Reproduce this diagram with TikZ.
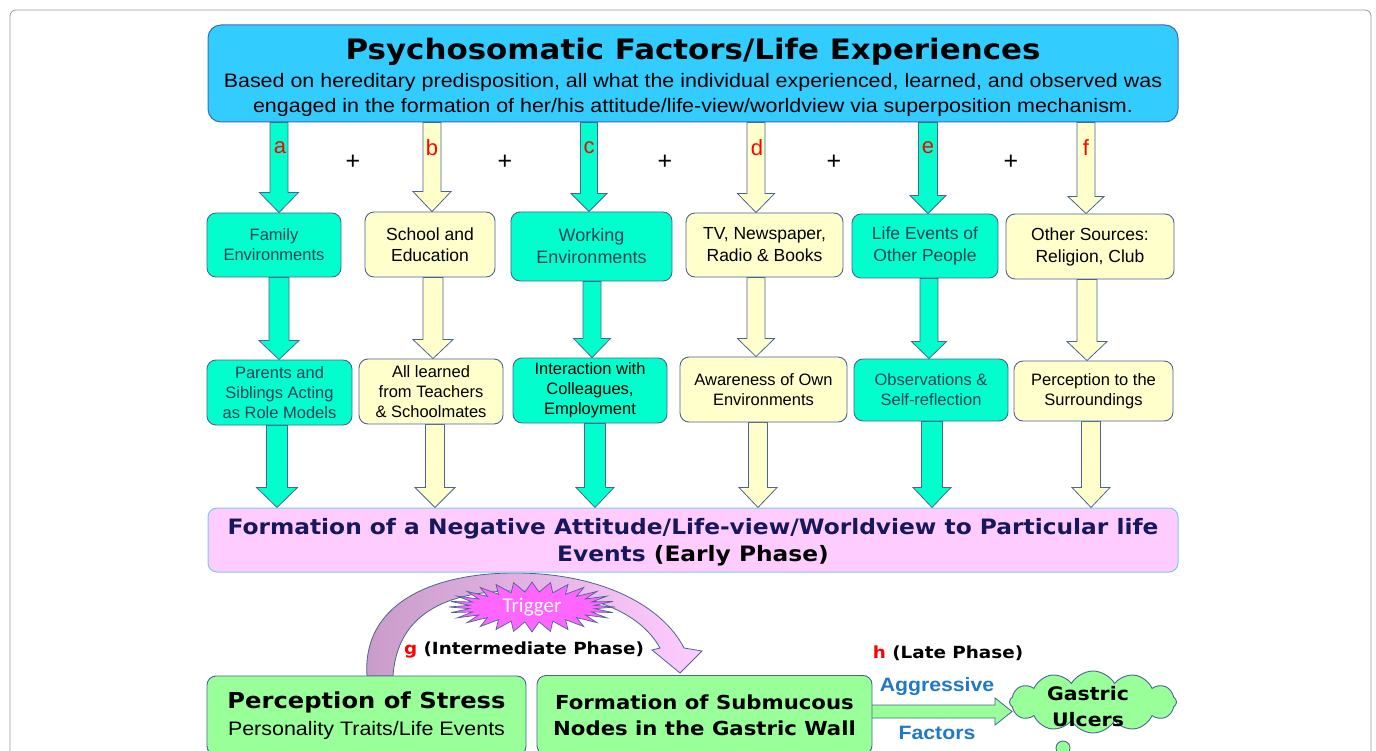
\documentclass[tikz,border=0pt]{standalone}
\usepackage{fontspec}
\setmainfont{Liberation Sans}
\newfontfamily\verd{DejaVu Sans}[FakeStretch=1.1]
\newfontfamily\arialw{Liberation Sans}[FakeStretch=1.1]
\newfontfamily\calib{Carlito}
\usetikzlibrary{shapes.symbols,calc}
\pgfdeclarelayer{bg}
\pgfsetlayers{bg,main}
\definecolor{topblue}{HTML}{33CCFF}
\definecolor{topedge}{HTML}{3A6DB5}
\definecolor{tealf}{HTML}{00FFCC}
\definecolor{yel}{HTML}{FFFFCC}
\definecolor{pinkf}{HTML}{FFCCFF}
\definecolor{pinkedge}{HTML}{7CC8F2}
\definecolor{greenf}{HTML}{99FF99}
\definecolor{edge}{HTML}{4A6496}
\definecolor{tealtext}{HTML}{1F3F5F}
\definecolor{navy}{HTML}{17175E}
\definecolor{aggblue}{HTML}{1F78C8}
\definecolor{mauve}{HTML}{C89BC8}
\definecolor{starf}{HTML}{FF66FF}
\definecolor{frame}{HTML}{9A9A9A}
% block arrow: style, x, from, to, half shaft, half head, head length
\newcommand\barrow[7]{%
  \path[#1] let \p1=(#3), \p2=(#4) in
    (#2pt-#5pt,\y1) -- (#2pt+#5pt,\y1) -- (#2pt+#5pt,\y2+#7pt) -- (#2pt+#6pt,\y2+#7pt)
    -- (#2pt,\y2) -- (#2pt-#6pt,\y2+#7pt) -- (#2pt-#5pt,\y2+#7pt) -- cycle;}
\tikzset{
  box/.style={draw=edge, line width=0.9pt, rounded corners=9pt, align=center, inner sep=0pt,
    font=\fontsize{16.5}{20}\selectfont},
  tbox/.style={box, fill=tealf, text=tealtext},
  ybox/.style={box, fill=yel, text=black},
  tarr/.style={draw=edge, line width=0.8pt, fill=tealf},
  yarr/.style={draw=edge, line width=0.8pt, fill=yel},
  letter/.style={text=red, font=\fontsize{22}{22}\selectfont, inner sep=0pt},
  plus/.style={font=\fontsize{25}{25}\selectfont, inner sep=0pt},
  gbox/.style={draw=edge, line width=0.9pt, rounded corners=9pt, fill=greenf, align=center, inner sep=0pt},
  phase/.style={font=\verd\bfseries\fontsize{16.7}{20}\selectfont, inner sep=0pt},
  agg/.style={text=aggblue, font=\arialw\bfseries\fontsize{19.3}{20}\selectfont, inner sep=0pt}
}
\begin{document}
\begin{tikzpicture}[x=1pt,y=-1pt]
\useasboundingbox (0,0) rectangle (1376,751);
\clip (0,0) rectangle (1376,751);
\draw[frame, line width=0.8pt, rounded corners=6pt] (10,10) rectangle (1371,800);

% top box
\node[draw=topedge, line width=1pt, rounded corners=13pt, fill=topblue, inner sep=0pt,
  minimum width=970pt, minimum height=97pt] (top) at (693,73.5) {};
\node[align=center, inner sep=0pt, font=\arialw\fontsize{19.5}{25}\selectfont] (toptext) at (693,77.5)
  {{\verd\bfseries\fontsize{28.1}{30}\selectfont Psychosomatic Factors/Life Experiences}\\[3pt]
   Based on hereditary predisposition, all what the individual experienced, learned, and observed was\\
   engaged in the formation of her/his attitude/life-view/worldview via superposition mechanism.};

% row 1
\node[tbox, minimum width=134pt, minimum height=64pt] (fam) at (274,245) {Family\\Environments};
\node[ybox, minimum width=130pt, minimum height=65pt, font=\fontsize{17.5}{21}\selectfont] (sch) at (430,244.5) {School and\\Education};
\node[tbox, minimum width=161pt, minimum height=69pt, font=\fontsize{18}{22}\selectfont] (work) at (591.5,246.5) {Working\\Environments};
\node[ybox, minimum width=157pt, minimum height=64pt, font=\fontsize{17.5}{22}\selectfont] (tv) at (764.5,245) {TV, Newspaper,\\Radio \& Books};
\node[tbox, minimum width=146pt, minimum height=64pt, font=\fontsize{17.5}{22}\selectfont] (life) at (925,246) {Life Events of\\Other People};
\node[ybox, minimum width=168pt, minimum height=65pt, font=\fontsize{17.5}{22}\selectfont] (oth) at (1090,246.5) {Other Sources:\\Religion, Club};

% row 2
\node[tbox, minimum width=145pt, minimum height=65pt] (par) at (279.5,392.5) {Parents and\\Siblings Acting\\as Role Models};
\node[ybox, minimum width=144pt, minimum height=65pt] (all) at (431,391.5) {All learned\\from Teachers\\\& Schoolmates};
\node[tbox, minimum width=154pt, minimum height=65pt, text=black] (int) at (590,390.5) {Interaction with\\Colleagues,\\Employment};
\node[ybox, minimum width=167pt, minimum height=65pt] (awa) at (763.5,389.5) {Awareness of Own\\Environments};
\node[tbox, minimum width=154pt, minimum height=62pt] (obs) at (931,390) {Observations \&\\Self-reflection};
\node[ybox, minimum width=159pt, minimum height=60pt] (per) at (1093.5,391) {Perception to the\\Surroundings};

% pink box
\node[draw=pinkedge, line width=1pt, rounded corners=9pt, fill=pinkf, inner sep=0pt,
  minimum width=970pt, minimum height=64pt] (neg) at (693,540) {};
\node[align=center, inner sep=0pt, text=navy, font=\verd\bfseries\fontsize{21.2}{27}\selectfont] (negtext) at (693,542.5)
  {Formation of a Negative Attitude/Life-view/Worldview to Particular life\\Events {\color{black}(Early Phase)}};

% bottom boxes
\node[gbox, minimum width=319pt, minimum height=79pt, font=\fontsize{19}{27}\selectfont] (stress) at (366.5,715.5)
  {{\verd\bfseries\fontsize{22}{27}\selectfont Perception of Stress}\\{\arialw\fontsize{19.5}{27}\selectfont Personality Traits/Life Events}};
\node[gbox, minimum width=335pt, minimum height=79pt, font=\verd\bfseries\fontsize{19.3}{26}\selectfont] (form) at (704.5,715)
  {Formation of Submucous\\Nodes in the Gastric Wall};
\node[cloud, cloud puffs=12, cloud puff arc=120, cloud ignores aspect, draw=edge, line width=0.9pt, fill=greenf,
  minimum width=167pt, minimum height=62pt, inner sep=0pt] (ulc) at (1093,702) {};
\node[align=center, inner sep=0pt, font=\verd\bfseries\fontsize{18.6}{26}\selectfont] (ulctext) at (1088,707) {Gastric\\Ulcers};
\draw[edge, line width=0.9pt, fill=greenf] (1063,748) circle (7pt);

% letters and plus signs
\node[letter] (la) at (280,148) {a};
\node[letter] (lb) at (432,148) {b};
\node[letter] (lc) at (589,148) {c};
\node[letter] (ld) at (757,148) {d};
\node[letter] (le) at (928,148) {e};
\node[letter] (lf) at (1086,148) {f};
\node[plus] (p1) at (353,162) {+};
\node[plus] (p2) at (505,162) {+};
\node[plus] (p3) at (665,162) {+};
\node[plus] (p4) at (834,162) {+};
\node[plus] (p5) at (1011,162) {+};

% texts bottom
\node[phase] (gph) at (524,650) {{\color{red}g} (Intermediate Phase)};
\node[phase] (hph) at (948,653) {{\color{red}h} (Late Phase)};
\node[agg] (ag) at (937,687) {Aggressive};
\node[agg] (fa) at (937,733) {Factors};

\begin{pgfonlayer}{bg}
% row 1 arrows
\barrow{tarr}{279}{top.south}{fam.north}{9}{19.5}{20}
\barrow{yarr}{432}{top.south}{sch.north}{9}{19}{20}
\barrow{tarr}{589}{top.south}{work.north}{8.5}{18}{18}
\barrow{yarr}{756}{top.south}{tv.north}{9}{18.5}{19}
\barrow{tarr}{928}{top.south}{life.north}{9.5}{18}{18}
\barrow{yarr}{1086}{top.south}{oth.north}{9}{18}{17}
% row 2 arrows
\barrow{tarr}{279}{fam.south}{par.north}{10}{20}{19}
\barrow{yarr}{433}{sch.south}{all.north}{10}{20}{19}
\barrow{tarr}{592}{work.south}{int.north}{9}{18.5}{19}
\barrow{yarr}{756}{tv.south}{awa.north}{9}{18.5}{18}
\barrow{tarr}{929}{life.south}{obs.north}{9}{17.5}{17}
\barrow{yarr}{1087}{oth.south}{per.north}{10}{20}{19}
% row 3 arrows
\barrow{tarr}{277}{par.south}{neg.north}{10.5}{20.5}{20}
\barrow{yarr}{435}{all.south}{neg.north}{9.5}{20}{20}
\barrow{tarr}{595}{int.south}{neg.north}{10.5}{19}{20}
\barrow{yarr}{758}{awa.south}{neg.north}{9.5}{19}{20}
\barrow{tarr}{932}{obs.south}{neg.north}{10.5}{19}{20}
\barrow{yarr}{1091}{per.south}{neg.north}{9.5}{19}{20}
% gastric arrow
\path[draw=edge, line width=0.8pt, fill=greenf] let \p1=(form.east), \p2=(ulc.west) in
  (\x1-2pt,-705pt) -- (\x2-14pt,-705pt) -- (\x2-14pt,-698pt) -- (\x2+3pt,-711.5pt)
  -- (\x2-14pt,-725pt) -- (\x2-14pt,-718pt) -- (\x1-2pt,-718pt) -- cycle;
% curved arrow
\draw[edge, line width=0.8pt, left color=mauve, right color=pinkf]
  (367,676) .. controls (362,605) and (430,573) .. (515,573)
  .. controls (600,573) and (662,605) .. (684,648) -- (702,651) -- (680,673) -- (652,650) -- (660,648)
  .. controls (640,612) and (590,591) .. (515,591)
  .. controls (445,591) and (397,615) .. (393,676) -- cycle;
\end{pgfonlayer}

% trigger star
\foreach \k in {0,...,55}{
  \ifodd\k \def\rx{63}\def\ry{15}\else \def\rx{83}\def\ry{25}\fi
  \coordinate (s\k) at ({532+\rx*cos(\k*45/7)},{607+\ry*sin(\k*45/7)});
}
\draw[edge, line width=0.7pt, fill=starf] (s0) \foreach \k in {1,...,55}{ -- (s\k) } -- cycle;
\node[text=white, font=\calib\fontsize{21}{21}\selectfont, inner sep=0pt] (trig) at (532,607) {Trigger};
\end{tikzpicture}
\end{document}
